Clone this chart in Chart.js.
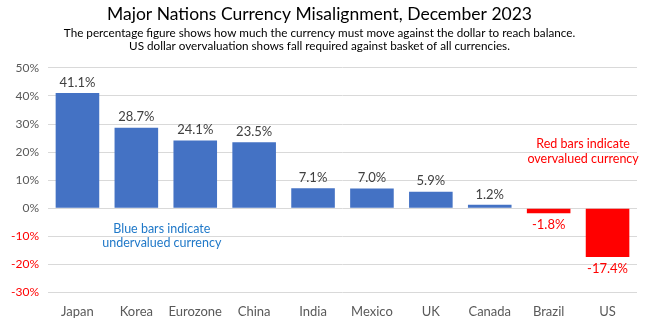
<!DOCTYPE html>
<html><head><meta charset="utf-8">
<script src="https://cdn.jsdelivr.net/npm/chart.js@4"></script>
<style>html,body{margin:0;padding:0;background:#fff}#w{width:650px;height:329px}</style>
</head><body><div id="w"><canvas id="c"></canvas></div>
<script>
const categories = ["Japan","Korea","Eurozone","China","India","Mexico","UK","Canada","Brazil","US"];
const misalignment = [41.1, 28.7, 24.1, 23.5, 7.1, 7.0, 5.9, 1.2, -1.8, -17.4];
const yTicks = [-30,-20,-10,0,10,20,30,40,50];
const titleText = "Major Nations Currency Misalignment, December 2023";
const subtitleLines = ["The percentage figure shows how much the currency must move against the dollar to reach balance.","US dollar overvaluation shows fall required against basket of all currencies."];
const blueNote = ["Blue bars indicate","undervalued currency"];
const redNote = ["Red bars indicate","overvalued currency"];

const FONT = "Lato, 'Open Sans', sans-serif";
const BLUE = "#4472C4", RED = "#FF0000";

const labelsPlugin = {
  id: 'valLabels',
  afterDatasetsDraw(chart) {
    const ctx = chart.ctx;
    const meta = chart.getDatasetMeta(0);
    ctx.save();
    ctx.font = "13px " + FONT;
    ctx.textAlign = "center";
    meta.data.forEach((bar, i) => {
      const v = misalignment[i];
      if (v >= 0) {
        ctx.fillStyle = "#404040";
        ctx.textBaseline = "bottom";
        ctx.fillText(v.toFixed(1) + "%", bar.x, bar.y - 4);
      } else {
        ctx.fillStyle = RED;
        ctx.textBaseline = "top";
        ctx.fillText(v.toFixed(1) + "%", bar.x, bar.y + 5);
      }
    });
    const x = chart.scales.x, y = chart.scales.y;
    ctx.font = "12.5px " + FONT;
    ctx.textBaseline = "middle";
    ctx.fillStyle = "#1F78C8";
    const bx = (x.getPixelForValue(1) + x.getPixelForValue(2)) / 2 - 4;
    ctx.fillText(blueNote[0], bx, y.getPixelForValue(-7.5));
    ctx.fillText(blueNote[1], bx, y.getPixelForValue(-12.5));
    ctx.fillStyle = RED;
    const rx = (x.getPixelForValue(8) + x.getPixelForValue(9)) / 2 + 5;
    ctx.fillText(redNote[0], rx, y.getPixelForValue(22.8));
    ctx.fillText(redNote[1], rx, y.getPixelForValue(17.5));
    ctx.restore();
  }
};

new Chart(document.getElementById('c'), {
  type: 'bar',
  data: {
    labels: categories,
    datasets: [{
      data: misalignment,
      backgroundColor: misalignment.map(v => v >= 0 ? BLUE : RED),
      borderWidth: 0,
      barPercentage: 0.74,
      categoryPercentage: 1.0
    }]
  },
  options: {
    responsive: true,
    maintainAspectRatio: false,
    animation: false,
    layout: { padding: { left: 2, right: 13, top: 0, bottom: 5 } },
    plugins: {
      legend: { display: false },
      tooltip: { enabled: false },
      title: {
        display: true, text: titleText, color: "#000",
        font: { family: FONT, size: 17.5, weight: 'normal' },
        padding: { top: 4, bottom: 1 }
      },
      subtitle: {
        display: true, text: subtitleLines, color: "#000",
        font: { family: FONT, size: 11.7, weight: 'normal', lineHeight: 1.15 },
        padding: { top: 0, bottom: 15 }
      }
    },
    scales: {
      x: {
        grid: { display: false },
        border: { display: false },
        ticks: { color: "#595959", font: { family: FONT, size: 13 }, padding: 4, maxRotation: 0, minRotation: 0, autoSkip: false }
      },
      y: {
        min: -30, max: 50,
        afterBuildTicks: (s) => { s.ticks = yTicks.map(v => ({ value: v })); },
        grid: { color: "#D9D9D9", drawTicks: false, lineWidth: 1 },
        border: { display: false },
        ticks: {
          padding: 9,
          font: { family: FONT, size: 12 },
          color: (c) => c.tick && c.tick.value < 0 ? RED : "#595959",
          callback: (v) => v + "%"
        }
      }
    }
  },
  plugins: [labelsPlugin]
});
</script>
</body></html>
